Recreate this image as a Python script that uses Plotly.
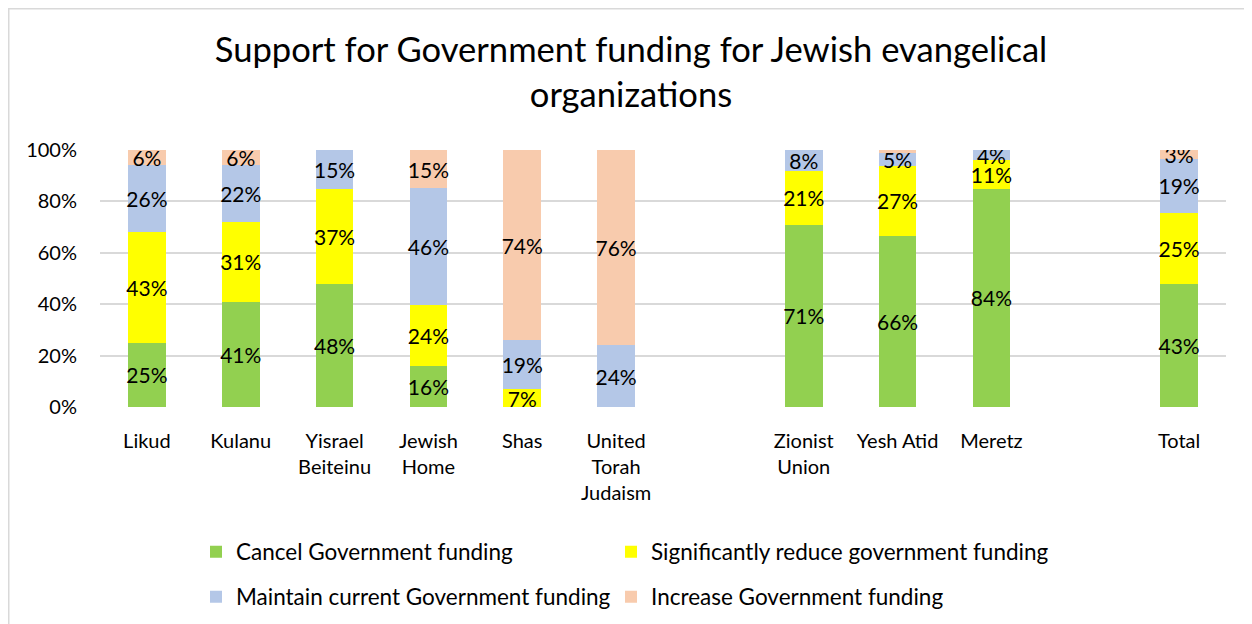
import plotly.graph_objects as go

categories = ["Likud", "Kulanu", "Yisrael<br>Beiteinu", "Jewish<br>Home", "Shas",
              "United<br>Torah<br>Judaism", " ", "Zionist<br>Union", "Yesh Atid",
              "Meretz", "  ", "Total"]

cancel =      [25, 41, 48, 16, 0, 0, None, 71, 66, 84, None, 43]
reduce_ =     [43, 31, 37, 24, 7, 0, None, 21, 27, 11, None, 25]
maintain =    [26, 22, 15, 46, 19, 24, None, 8, 5, 4, None, 19]
increase =    [6, 6, 0, 15, 74, 76, None, 0, 1, 0, None, 3]

series_names = ["Cancel Government funding",
                "Significantly reduce government funding",
                "Maintain current Government funding",
                "Increase Government funding"]
series_values = [cancel, reduce_, maintain, increase]
series_colors = ["#92D050", "#FFFF00", "#B4C7E7", "#F8CBAD"]
series_legends = ["legend", "legend2", "legend3", "legend4"]

y_ticks = [0, 20, 40, 60, 80, 100]
y_ticktext = [f"{t}%" for t in y_ticks]

FONT = "Lato, 'Open Sans', sans-serif"

def label(v):
    if v is None or v <= 1:
        return ""
    return f"{v}%"

fig = go.Figure()
for name, vals, color, lg in zip(series_names, series_values, series_colors, series_legends):
    fig.add_trace(go.Bar(
        x=categories, y=vals, name=name,
        marker=dict(color=color, line=dict(width=0)),
        text=[label(v) for v in vals],
        textposition="inside", insidetextanchor="middle",
        constraintext="none", textangle=0,
        textfont=dict(family=FONT, size=21, color="black"),
        legend=lg,
    ))

# page has an 8px body margin; figure sized to fill the rest of the window
W, H = 1244, 616
ML, MR, MT, MB = 92, 26, 142, 217
PW = W - ML - MR
PH = H - MT - MB

def fx(px):   # figure pixel x -> paper
    return (px - ML) / PW

def fy(py):   # figure pixel y -> paper
    return (H - MB - py) / PH

legend_common = dict(
    orientation="h", xanchor="left", yanchor="middle",
    font=dict(family=FONT, size=22.5, color="black"),
    bgcolor="rgba(0,0,0,0)", borderwidth=0,
)

fig.update_layout(
    width=W, height=H,
    margin=dict(l=ML, r=MR, t=MT, b=MB, autoexpand=False),
    paper_bgcolor="white", plot_bgcolor="white",
    barmode="stack", barnorm="percent", bargap=0.6,
    title=dict(
        text="Support for Government funding for Jewish evangelical<br>organizations",
        x=0.5008, xanchor="center", xref="container",
        y=0.9123, yanchor="top", yref="container",
        font=dict(family=FONT, size=34.6, color="black"),
    ),
    xaxis=dict(
        type="category", categoryorder="array", categoryarray=categories,
        showgrid=False, showline=False, zeroline=False,
        ticks="outside", ticklen=16, tickcolor="rgba(0,0,0,0)",
        tickfont=dict(family=FONT, size=20, color="black"),
    ),
    yaxis=dict(
        range=[0, 100], tickmode="array", tickvals=y_ticks, ticktext=y_ticktext,
        showgrid=True, gridcolor="#D9D9D9", gridwidth=1.5,
        zeroline=False, showline=False,
        ticks="outside", ticklen=18, tickcolor="rgba(0,0,0,0)",
        tickfont=dict(family=FONT, size=20, color="black"),
    ),
    legend=dict(legend_common, x=fx(188), y=fy(544)),
    legend2=dict(legend_common, x=fx(603), y=fy(544)),
    legend3=dict(legend_common, x=fx(188), y=fy(589)),
    legend4=dict(legend_common, x=fx(603), y=fy(589)),
    showlegend=True,
    shapes=[dict(
        type="rect", xref="paper", yref="paper",
        x0=fx(0.75), x1=fx(W + 10),
        y0=fy(H + 10), y1=fy(0.75),
        line=dict(color="#D9D9D9", width=1.5), fillcolor="rgba(0,0,0,0)",
        layer="below",
    )],
)

fig.write_html("out.html")
